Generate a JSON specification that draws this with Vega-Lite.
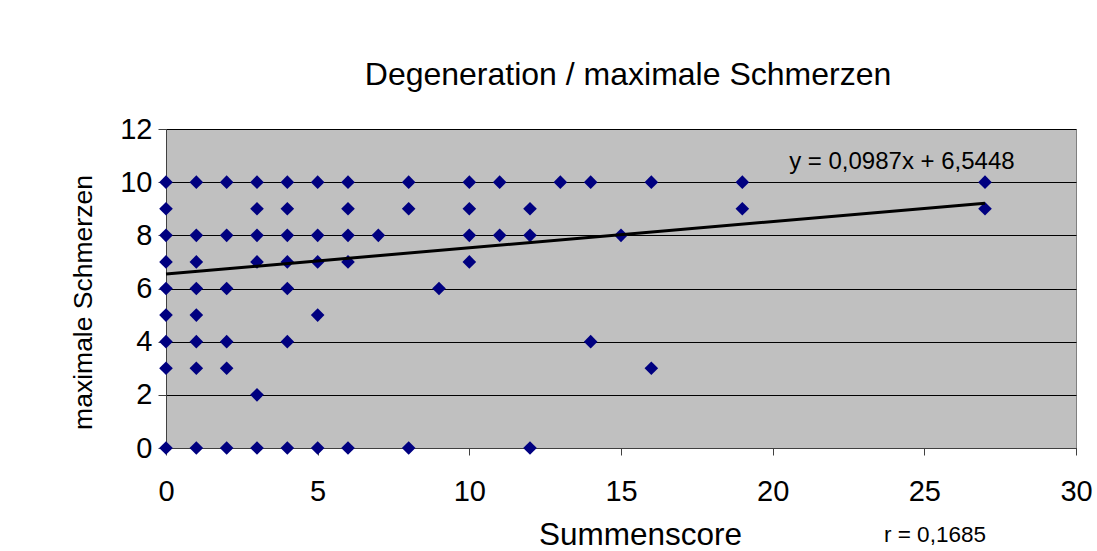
{
  "$schema": "https://vega.github.io/schema/vega-lite/v6.json",
  "autosize": "none",
  "padding": {"left": 166, "top": 129, "right": 21, "bottom": 103},
  "width": 910,
  "height": 319,
  "background": "white",
  "config": {
    "font": "Liberation Sans",
    "view": {"fill": "#C0C0C0", "stroke": "#808080", "strokeWidth": 1},
    "axis": {"labelFont": "Liberation Sans", "titleFont": "Liberation Sans", "labelColor": "black", "titleColor": "black", "titleFontWeight": "normal", "tickColor": "#404040", "domainColor": "#404040"}
  },
  "title": {"text": "Degeneration / maximale Schmerzen", "fontSize": 32, "fontWeight": "normal", "font": "Liberation Sans", "color": "black", "anchor": "middle", "frame": "group", "baseline": "alphabetic", "offset": 41, "dx": 7, "dy": 43},
  "datasets": {
    "points": [
      {"s": 0, "m": 10}, {"s": 0, "m": 9}, {"s": 0, "m": 8}, {"s": 0, "m": 7}, {"s": 0, "m": 6}, {"s": 0, "m": 5}, {"s": 0, "m": 4}, {"s": 0, "m": 3}, {"s": 0, "m": 0},
      {"s": 1, "m": 10}, {"s": 1, "m": 8}, {"s": 1, "m": 7}, {"s": 1, "m": 6}, {"s": 1, "m": 5}, {"s": 1, "m": 4}, {"s": 1, "m": 3}, {"s": 1, "m": 0},
      {"s": 2, "m": 10}, {"s": 2, "m": 8}, {"s": 2, "m": 6}, {"s": 2, "m": 4}, {"s": 2, "m": 3}, {"s": 2, "m": 0},
      {"s": 3, "m": 10}, {"s": 3, "m": 9}, {"s": 3, "m": 8}, {"s": 3, "m": 7}, {"s": 3, "m": 2}, {"s": 3, "m": 0},
      {"s": 4, "m": 10}, {"s": 4, "m": 9}, {"s": 4, "m": 8}, {"s": 4, "m": 7}, {"s": 4, "m": 6}, {"s": 4, "m": 4}, {"s": 4, "m": 0},
      {"s": 5, "m": 10}, {"s": 5, "m": 8}, {"s": 5, "m": 7}, {"s": 5, "m": 5}, {"s": 5, "m": 0},
      {"s": 6, "m": 10}, {"s": 6, "m": 9}, {"s": 6, "m": 8}, {"s": 6, "m": 7}, {"s": 6, "m": 0},
      {"s": 7, "m": 8},
      {"s": 8, "m": 10}, {"s": 8, "m": 9}, {"s": 8, "m": 0},
      {"s": 9, "m": 6},
      {"s": 10, "m": 10}, {"s": 10, "m": 9}, {"s": 10, "m": 8}, {"s": 10, "m": 7},
      {"s": 11, "m": 10}, {"s": 11, "m": 8},
      {"s": 12, "m": 9}, {"s": 12, "m": 8}, {"s": 12, "m": 0},
      {"s": 13, "m": 10},
      {"s": 14, "m": 10}, {"s": 14, "m": 4},
      {"s": 15, "m": 8},
      {"s": 16, "m": 10}, {"s": 16, "m": 3},
      {"s": 19, "m": 10}, {"s": 19, "m": 9},
      {"s": 27, "m": 10}, {"s": 27, "m": 9}
    ],
    "trend": [{"s": 0, "m": 6.5448}, {"s": 27, "m": 9.2097}],
    "notes": [
      {"s": 24.26, "m": 10.76, "t": "y = 0,0987x + 6,5448", "k": "eq"},
      {"s": 25.35, "m": -3.27, "t": "r = 0,1685", "k": "r"}
    ]
  },
  "encoding": {
    "x": {"field": "s", "type": "quantitative",
      "scale": {"domain": [0, 30], "nice": false, "zero": false},
      "axis": {"values": [0, 5, 10, 15, 20, 25, 30], "grid": false, "tickSize": 7, "labelPadding": 22, "labelFontSize": 29, "title": "Summenscore", "titleFontSize": 31.5, "titleX": 474, "titleY": 87, "titleBaseline": "middle", "titleAlign": "center", "labelFlush": false}},
    "y": {"field": "m", "type": "quantitative",
      "scale": {"domain": [0, 12], "nice": false, "zero": false},
      "axis": {"values": [0, 2, 4, 6, 8, 10, 12], "grid": true, "gridColor": "black", "gridWidth": 1, "gridOpacity": 1, "tickSize": 8, "labelPadding": 6, "labelFontSize": 29, "title": "maximale Schmerzen", "titleFontSize": 26.5, "titleAngle": -90, "titleX": -83, "titleY": 173, "titleBaseline": "middle", "titleAlign": "center", "labelFlush": false}}
  },
  "layer": [
    {"data": {"name": "points"},
      "mark": {"type": "point", "shape": "diamond", "filled": true, "color": "#000080", "size": 185, "opacity": 1, "strokeWidth": 0}},
    {"data": {"name": "trend"},
      "mark": {"type": "line", "color": "black", "strokeWidth": 3}},
    {"data": {"name": "notes"},
      "transform": [{"filter": "datum.k == 'eq'"}],
      "mark": {"type": "text", "fontSize": 24, "font": "Liberation Sans", "color": "black", "align": "center", "baseline": "middle"},
      "encoding": {"text": {"field": "t"}}},
    {"data": {"name": "notes"},
      "transform": [{"filter": "datum.k == 'r'"}],
      "mark": {"type": "text", "fontSize": 22.5, "font": "Liberation Sans", "color": "black", "align": "center", "baseline": "middle", "clip": false},
      "encoding": {"text": {"field": "t"}}}
  ]
}
